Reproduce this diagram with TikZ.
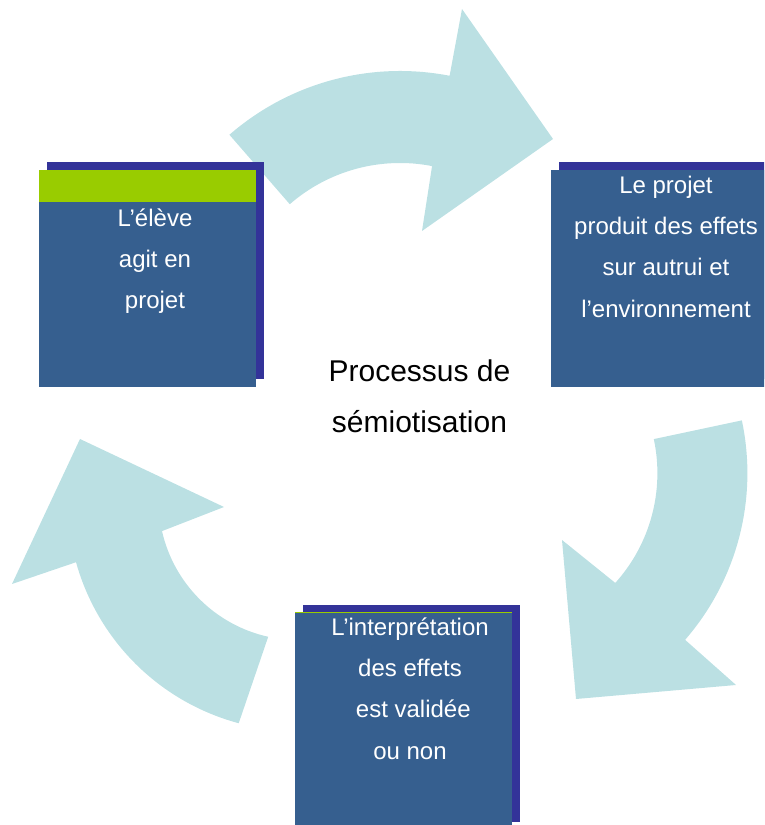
\documentclass[tikz,border=0pt]{standalone}
\usepackage{fontspec}
\setmainfont{Liberation Sans}
\usepackage{tikz}
\usetikzlibrary{calc}
\definecolor{cyclefill}{RGB}{187,224,227}
\definecolor{boxblue}{RGB}{54,95,143}
\definecolor{boxshade}{RGB}{51,51,153}
\definecolor{boxgreen}{RGB}{153,204,0}
\tikzset{
  boxtext/.style={text=white, align=center, anchor=north,
    font={\fontsize{24pt}{41.3pt}\selectfont}},
  midtext/.style={align=center, anchor=north,
    font={\fontsize{30pt}{50.6pt}\selectfont}}}

\begin{document}
\begin{tikzpicture}[x=1pt,y=1pt]
\tikzstyle{every node}+=[inner sep=0pt]
\useasboundingbox (0,0) rectangle (764,825);
\clip (0,0) rectangle (764,825);
\coordinate (cT) at (400,494);
\coordinate (cR) at (493.4,351.8);
\coordinate (cL) at (298.5,324.9);
\fill [cyclefill] ($(cT)+(131:260)$) arc [start angle=131, end angle=79, radius=260]
  -- (462,816) -- (553,686) -- (422,594)
  -- ($(cT)+(79:168)$) arc [start angle=79, end angle=131, radius=168] -- cycle;
\fill [cyclefill] ($(cR)+(12:254)$) -- ($(cR)+(12:164)$) arc [start angle=12, end angle=-42, radius=164]
  -- (562,285) -- (576,126) -- (736,140)
  -- ($(cR)+(-41:254)$) arc [start angle=-41, end angle=12, radius=254] -- cycle;
\fill [cyclefill] ($(cL)+(255:231)$) -- ($(cL)+(257.5:140)$) arc [start angle=257.5, end angle=192.8, radius=140]
  -- (224,318) -- (80,386) -- (12,241)
  -- ($(cL)+(195.6:231)$) arc [start angle=195.6, end angle=255, radius=231] -- cycle;
\fill [boxshade] (47,446) rectangle (264,663);
\fill [boxblue] (39,438) rectangle (256,655);
\fill [boxgreen] (39,623) rectangle (256,655);
\fill [boxshade] (559,446) rectangle (776,663);
\fill [boxblue] (551,438) rectangle (768,655);
\fill [boxshade] (303,3) rectangle (520,220);
\fill [boxblue] (295,-5) rectangle (512,212);
\draw [boxgreen, line width=1pt] (295,212) -- (512,212);
\node [boxtext] (eleve) at (155,619) {\rule{0pt}{20pt}L’élève\\agit en\\projet};
\node [boxtext] (effets) at (666,652) {\rule{0pt}{20pt}Le projet\\produit des effets\\sur autrui et\\l’environnement};
\node [boxtext] (validation) at (410,210) {\rule{0pt}{20pt}L’interprétation\\des effets\\\ est validée\\ou non};
\node [midtext] (processus) at (419.5,468.3) {\rule{0pt}{25pt}Processus de\\sémiotisation};
\end{tikzpicture}
\end{document}
